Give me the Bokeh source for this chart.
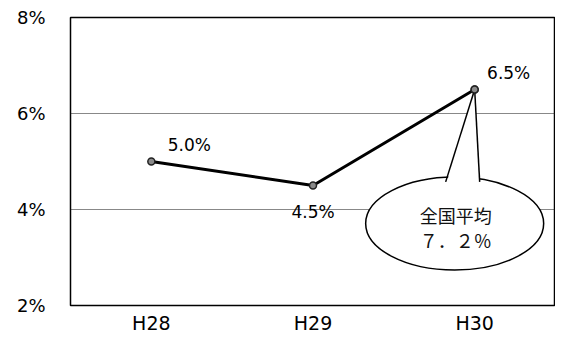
from bokeh.plotting import figure
from bokeh.models import FixedTicker, Range1d, FactorRange
from bokeh.core.properties import value
from bokeh.embed import file_html
from bokeh.resources import INLINE

# ---- data ----
years = ["H28", "H29", "H30"]
rates = [5.0, 4.5, 6.5]
rate_labels = ["5.0%", "4.5%", "6.5%"]
y_ticks = [2, 4, 6, 8]
y_tick_labels = ["2%", "4%", "6%", "8%"]
national_avg = 7.2
callout_lines = ["全国平均", "７．２％"]

# ---- layout ----
W, H = 555, 336
BL, BR, BT, BB = 70, 0, 17, 29
fw = W - BL - BR
fh = H - BT - BB
y0, y1 = 2, 8
px_x = fw / len(years)          # pixels per category
px_y = fh / (y1 - y0)           # pixels per percentage point

p = figure(x_range=FactorRange(*years), y_range=Range1d(y0, y1),
           width=W, height=H, output_backend="svg", toolbar_location=None,
           min_border_left=BL, min_border_right=BR, min_border_top=BT,
           min_border_bottom=BB)

p.background_fill_color = "white"
p.border_fill_color = "white"
p.outline_line_color = "black"
p.outline_line_width = 1.5

p.xgrid.grid_line_color = None
p.ygrid.ticker = FixedTicker(ticks=[4, 6])
p.ygrid.grid_line_color = "#111111"
p.ygrid.grid_line_dash = "1 1"
p.ygrid.grid_line_width = 1

for ax in (p.xaxis, p.yaxis):
    ax.axis_line_color = None
    ax.major_tick_line_color = None
    ax.minor_tick_line_color = None
    ax.major_tick_out = 0
    ax.major_tick_in = 0
    ax.minor_tick_out = 0
    ax.minor_tick_in = 0
    ax.major_label_text_font = "DejaVu Sans"
    ax.major_label_text_color = "#000000"

p.yaxis.ticker = FixedTicker(ticks=y_ticks)
p.yaxis.major_label_overrides = {t: l for t, l in zip(y_ticks, y_tick_labels)}
p.yaxis.major_label_text_font_size = "18px"
p.yaxis.major_label_standoff = 25
p.xaxis.major_label_text_font_size = "19px"
p.xaxis.major_label_standoff = 6

# series
p.line(years, rates, line_color="black", line_width=3)
p.scatter(years, rates, size=7, fill_color="#8a8a8a", line_color="#222222",
          line_width=1.5)
p.text(x=years, y=rates, text=rate_labels, x_offset=[38, 0, 34],
       y_offset=[-17, 26, -16.5], text_align="center", text_baseline="middle",
       text_font=value("DejaVu Sans"), text_font_size="17px", text_color="#000000")

# callout anchored at the H30 point
cx, cy = years[-1], rates[-1]
def dx(px):
    return (cx, px / px_x)
def dy(px):
    return cy - px / px_y

p.ellipse(x=[dx(-20)], y=[dy(135)], width=178, height=93,
          width_units="screen", height_units="screen",
          fill_color="white", line_color="black", line_width=1.5)
p.patch(x=[dx(-29), dx(0), dx(5)], y=[dy(97), dy(0), dy(97)],
        fill_color="white", line_color=None)
p.multi_line(xs=[[dx(-29), dx(0)], [dx(0), dx(5)]],
             ys=[[dy(93), dy(0)], [dy(0), dy(93)]],
             line_color="black", line_width=1.5)
p.scatter([cx], [cy], size=7, fill_color="#8a8a8a", line_color="#222222",
          line_width=1.5)
p.text(x=[cx, cx], y=[cy, cy], text=callout_lines, x_offset=[-19, -19],
       y_offset=[125, 150], text_align="center", text_baseline="middle",
       text_font=value("Noto Sans CJK JP"), text_font_size="18px",
       text_color="#111111")

open("out.html", "w").write(file_html(p, INLINE))
